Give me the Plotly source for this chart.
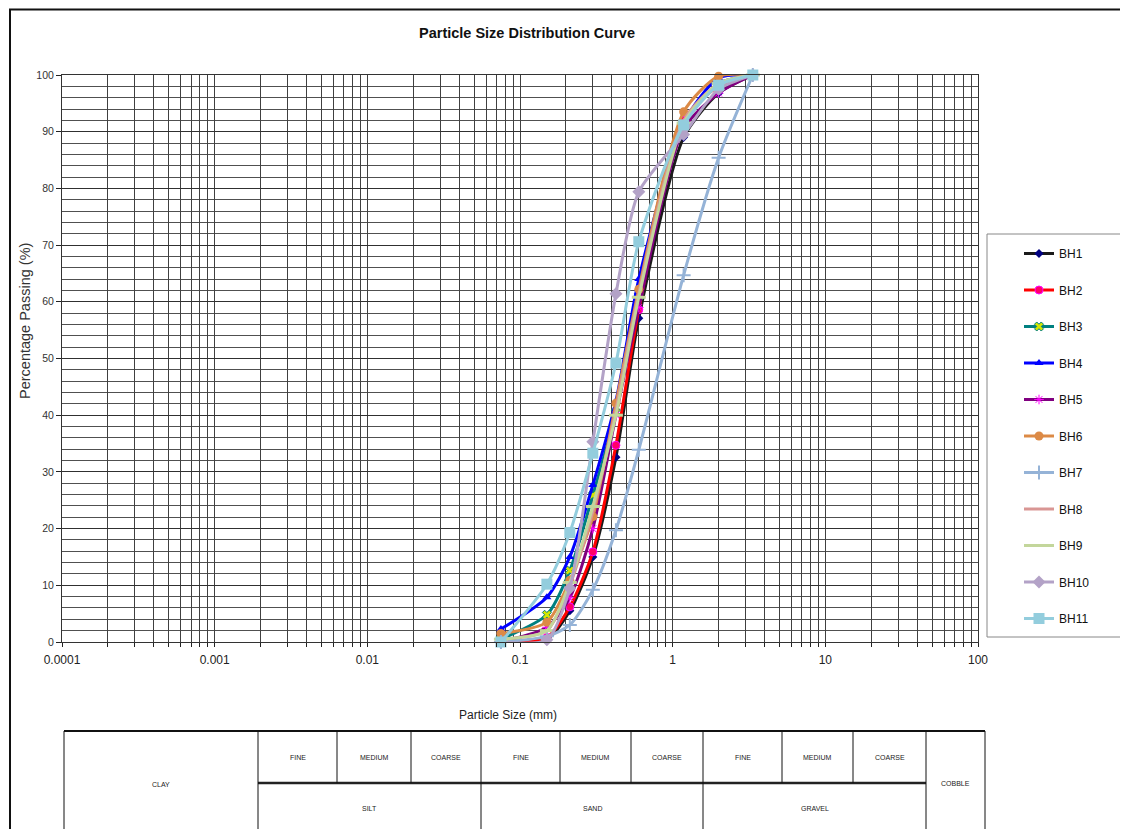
import plotly.graph_objects as go

# ---------------- data ----------------
sieve_mm = [0.075, 0.15, 0.212, 0.3, 0.425, 0.6, 1.18, 2.0, 3.35]

bh1 = [0, 0.5, 5.5, 15.0, 32.6, 57.1, 89.0, 96.8, 100]
bh2 = [0, 0.8, 6.2, 15.9, 34.7, 58.6, 92.0, 98.0, 100]
bh3 = [0.5, 4.8, 12.6, 25.9, 40.5, 61.0, 91.0, 98.5, 100]
bh4 = [2.3, 7.9, 15.0, 27.7, 42.5, 64.0, 91.5, 99.5, 100]
bh5 = [0, 2.6, 7.8, 20.0, 40.0, 59.0, 90.5, 96.8, 100]
bh6 = [1.5, 3.5, 10.9, 22.1, 42.1, 62.2, 93.5, 99.8, 100]
bh7 = [0, 1.0, 3.0, 9.2, 19.7, 33.9, 64.7, 85.4, 100]
bh8 = [0.5, 2.0, 10.0, 23.0, 41.0, 61.5, 92.0, 98.5, 100]
bh9 = [0.5, 2.0, 10.5, 23.9, 40.0, 60.8, 91.5, 98.5, 100]
bh10 = [0, 0.4, 9.5, 35.3, 61.4, 79.4, 89.5, 97.5, 100]
bh11 = [0, 10.2, 19.3, 33.3, 49.2, 70.6, 91.2, 98.2, 100]

series_names = ["BH1", "BH2", "BH3", "BH4", "BH5", "BH6", "BH7", "BH8", "BH9", "BH10", "BH11"]
series_values = [bh1, bh2, bh3, bh4, bh5, bh6, bh7, bh8, bh9, bh10, bh11]

x_tick_labels = ["0.0001", "0.001", "0.01", "0.1", "1", "10", "100"]
x_decades = [0.0001, 0.001, 0.01, 0.1, 1, 10, 100]

# soil classification table text
top_row_labels = ["FINE", "MEDIUM", "COARSE"] * 3
bottom_row_labels = ["SILT", "SAND", "GRAVEL"]

# ---------------- styles ----------------
styles = [
    dict(line="#1a1a1a", marker=dict(symbol="diamond", size=7, color="#000080")),
    dict(line="#ff0000", marker=dict(symbol="circle", size=8, color="#ff0066", line=dict(color="#ff00ff", width=1))),
    dict(line="#008080", marker=dict(symbol="x", size=8, color="#d4e600", line=dict(color="#008080", width=1))),
    dict(line="#0000ff", marker=dict(symbol="triangle-up", size=8, color="#0000ff")),
    dict(line="#800080", marker=dict(symbol="asterisk-open", size=8, color="#ff00ff", line=dict(color="#ff00ff", width=1))),
    dict(line="#dc8a46", marker=dict(symbol="circle", size=9, color="#dc8a46")),
    dict(line="#95b3d7", marker=dict(symbol="cross-thin-open", size=10, color="#95b3d7", line=dict(color="#95b3d7", width=2))),
    dict(line="#d99694", marker=dict(symbol="square", size=1, color="#d99694")),
    dict(line="#c3d69b", marker=dict(symbol="line-ew-open", size=10, color="#c3d69b", line=dict(color="#c3d69b", width=3))),
    dict(line="#b3a2c7", marker=dict(symbol="diamond", size=10, color="#b3a2c7")),
    dict(line="#93cddd", marker=dict(symbol="square", size=11, color="#93cddd")),
]

OFF = 8  # page body margin
W, H = 1128 - OFF, 829 - OFF
PL, PR, PT, PB = 62, 978, 75, 642  # plot area in page pixels


def px2x(px):
    return (px - PL) / (PR - PL)


def py2y(py):
    return (PB - py) / (PB - PT)


fig = go.Figure()

for i, (name, vals) in enumerate(zip(series_names, series_values)):
    st = styles[i]
    fig.add_trace(go.Scatter(
        x=sieve_mm, y=vals, name=name, mode="lines+markers",
        line=dict(color=st["line"], width=3, shape="spline", smoothing=0.7),
        marker=st["marker"], cliponaxis=False, legendgroup=name,
    ))

# gridline values for log axis
grid_vals = []
grid_text = []
for d, lab in zip(x_decades, x_tick_labels):
    for m in range(1, 10):
        v = d * m
        if v > 100.0001:
            break
        grid_vals.append(v)
        grid_text.append(lab if m == 1 else "")

fig.update_xaxes(
    type="log", range=[-4, 2], tickvals=grid_vals, ticktext=grid_text,
    showgrid=True, gridcolor="#404040", gridwidth=1,
    ticks="outside", ticklen=4, tickcolor="#222", ticklabelstandoff=3,
    showline=True, linecolor="#333", linewidth=1, mirror=True,
    tickfont=dict(family="Liberation Sans, Arial", size=12, color="#222"),
    zeroline=False,
)
fig.update_yaxes(
    range=[0, 100], dtick=10, tick0=0,
    showgrid=True, gridcolor="#303030", gridwidth=1,
    minor=dict(dtick=2, showgrid=True, gridcolor="#505050", gridwidth=1, ticks=""),
    ticks="outside", ticklen=5, tickcolor="#222",
    showline=True, linecolor="#333", linewidth=1, mirror=True,
    tickfont=dict(family="Liberation Sans, Arial", size=10.5, color="#333"),
    zeroline=False,
)

shapes = []
annotations = []

# outer frame
shapes.append(dict(type="rect", xref="paper", yref="paper",
                   x0=px2x(10), x1=px2x(1140), y0=py2y(9.5), y1=py2y(850),
                   line=dict(color="#111", width=2), layer="below"))

# legend box
shapes.append(dict(type="rect", xref="paper", yref="paper",
                   x0=px2x(987), x1=px2x(1140), y0=py2y(234), y1=py2y(637),
                   line=dict(color="#888", width=1), fillcolor="white"))

# title and axis titles
annotations.append(dict(text="<b>Particle Size Distribution Curve</b>", xref="paper", yref="paper",
                        x=px2x(527), y=py2y(33), showarrow=False, xanchor="center", yanchor="middle",
                        font=dict(family="Liberation Sans, Arial", size=14.5, color="#111")))
annotations.append(dict(text="Particle Size (mm)", xref="paper", yref="paper",
                        x=px2x(508), y=py2y(715), showarrow=False, xanchor="center", yanchor="middle",
                        font=dict(family="Liberation Sans, Arial", size=12, color="#222")))
annotations.append(dict(text="Percentage Passing (%)", xref="paper", yref="paper",
                        x=px2x(25), y=py2y(321), showarrow=False, textangle=-90,
                        xanchor="center", yanchor="middle",
                        font=dict(family="Liberation Sans, Arial", size=14.5, color="#333")))

# classification table
T_TOP, T_MID, T_BOT = 731, 783, 860
col_edges = [64, 258, 337, 411, 481, 560, 631, 703, 782, 853, 926, 985]
line_c = "#111"
shapes.append(dict(type="rect", xref="paper", yref="paper",
                   x0=px2x(col_edges[0]), x1=px2x(col_edges[-1]), y0=py2y(T_TOP), y1=py2y(T_BOT),
                   line=dict(color=line_c, width=1)))
shapes.append(dict(type="line", xref="paper", yref="paper",
                   x0=px2x(col_edges[0]), x1=px2x(col_edges[-1]), y0=py2y(T_TOP), y1=py2y(T_TOP),
                   line=dict(color=line_c, width=2)))
shapes.append(dict(type="line", xref="paper", yref="paper",
                   x0=px2x(col_edges[1]), x1=px2x(col_edges[10]), y0=py2y(T_MID), y1=py2y(T_MID),
                   line=dict(color="#222", width=2.5)))
for k in range(1, 11):
    full = (k - 1) % 3 == 0
    shapes.append(dict(type="line", xref="paper", yref="paper",
                       x0=px2x(col_edges[k]), x1=px2x(col_edges[k]),
                       y0=py2y(T_TOP), y1=py2y(T_BOT if full else T_MID),
                       line=dict(color=line_c, width=1)))

tfont = dict(family="Liberation Sans Narrow, Liberation Sans, Arial", size=7, color="#222")
for k, lab in enumerate(top_row_labels):
    cx = (col_edges[k + 1] + col_edges[k + 2]) / 2
    annotations.append(dict(text=lab, xref="paper", yref="paper", x=px2x(cx), y=py2y(757),
                            xanchor="center", yanchor="middle", showarrow=False, font=tfont))
for k, lab in enumerate(bottom_row_labels):
    cx = (col_edges[1 + 3 * k] + col_edges[4 + 3 * k]) / 2
    annotations.append(dict(text=lab, xref="paper", yref="paper", x=px2x(cx), y=py2y(808),
                            xanchor="center", yanchor="middle", showarrow=False, font=tfont))
annotations.append(dict(text="CLAY", xref="paper", yref="paper",
                        x=px2x((col_edges[0] + col_edges[1]) / 2), y=py2y(784),
                        xanchor="center", yanchor="middle", showarrow=False, font=tfont))
annotations.append(dict(text="COBBLE", xref="paper", yref="paper",
                        x=px2x((col_edges[10] + col_edges[11]) / 2), y=py2y(783),
                        xanchor="center", yanchor="middle", showarrow=False, font=tfont))

fig.update_layout(
    width=W, height=H,
    margin=dict(l=PL - OFF, r=W - (PR - OFF), t=PT - OFF, b=H - (PB - OFF), pad=0),
    paper_bgcolor="white", plot_bgcolor="white",
    showlegend=True,
    legend=dict(x=px2x(1019), y=py2y(239), xanchor="left", yanchor="top",
                bgcolor="rgba(0,0,0,0)", borderwidth=0,
                traceorder="grouped", tracegroupgap=17.5,
                font=dict(family="Liberation Sans, Arial", size=12, color="#111")),
    shapes=shapes, annotations=annotations,
)

fig.write_html("out.html")
